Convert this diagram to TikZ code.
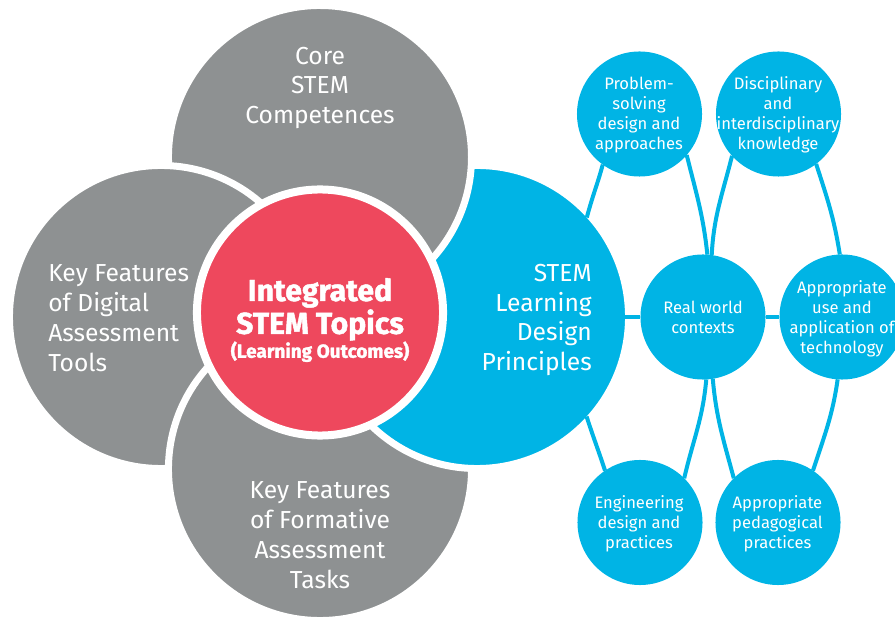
\documentclass[tikz,border=0pt]{standalone}
\usepackage{fontspec}
\setmainfont{Fira Sans}
\newfontfamily\topicsfont{Fira Sans}[BoldFeatures = {FakeBold = 1.5}]
\usepackage{tikz}
\definecolor{stemgray}{HTML}{8E9192}
\definecolor{stemblue}{HTML}{00B4E5}
\definecolor{stemred}{HTML}{EE485D}

\begin{document}
\begin{tikzpicture}[x = 0.025cm, y = 0.025cm,
		bigcircle/.style = {circle, minimum size = 7.575cm, draw = white, line width = 0.175cm, outer sep = 0},
		smallcircle/.style = {circle, minimum size = 3.125cm, fill = stemblue, outer sep = 0},
		bigtext/.style = {text = white, inner sep = 0, font = \fontsize{17.5}{21.26}\selectfont},
		smalltext/.style = {text = white, inner sep = 0, align = center, font = \fontsize{11.8}{14.2}\selectfont},
		link/.style = {stemblue, line width = 0.1cm}]
		\useasboundingbox (0,0) rectangle (895,619);
		\node[bigcircle, fill = stemgray] (core) at (320,462) {};
		\node[bigcircle, fill = stemgray] (digital) at (161,302) {};
		\node[bigcircle, fill = stemgray] (formative) at (320,150) {};
		\node[bigcircle, fill = stemblue] (design) at (477,302) {};
		\begin{scope}
			\clip (320,300) rectangle (480,619);
			\draw[white, line width = 0.175cm, fill = stemgray] (core.center) circle[radius = 151.5];
		\end{scope}
		\node[circle, minimum size = 6.15cm, fill = stemred, draw = white, line width = 0.2cm, outer sep = 0] (topics) at (320,306.5) {};
		\node[smallcircle] (problem) at (639.5,505) {};
		\node[smallcircle] (discipline) at (778.5,505) {};
		\node[smallcircle] (real) at (703,302) {};
		\node[smallcircle] (technology) at (842,302) {};
		\node[smallcircle] (engineering) at (640,96.5) {};
		\node[smallcircle] (pedagogy) at (778,96.5) {};
		\draw[link] (design.center) -- (real);
		\draw[link] (real) -- (technology);
		\draw[link, shorten > = -0.1cm] (problem.-126) to[out = -105, in = 75] (design.43);
		\draw[link, shorten < = -0.1cm] (design.-43) to[out = -72, in = 108] (engineering.124);
		\draw[link] (problem.-41) to[out = -76, in = 96] (real.86);
		\draw[link] (discipline.-138) to[out = -104, in = 87] (real.82);
		\draw[link] (discipline.-53) to[out = -72, in = 99] (technology.92);
		\draw[link] (real.-87) to[out = -95, in = 77] (engineering.45);
		\draw[link] (real.-81) to[out = -85, in = 105] (pedagogy.135);
		\draw[link] (technology.-94) to[out = -98, in = 72] (pedagogy.56);
		\node[bigtext, align = center] (coretxt) at (320,531) {Core\\STEM\\Competences};
		\node[bigtext, align = left, anchor = west] (digitaltxt) at (48,301) {Key Features\\of Digital\\Assessment\\Tools};
		\node[bigtext, align = center] (formativetxt) at (320,84) {Key Features\\of Formative\\Assessment\\Tasks};
		\node[bigtext, align = right, anchor = east] (designtxt) at (592,299) {STEM\\Learning\\Design\\Principles};
		\node[text = white, inner sep = 0, align = center, font = \topicsfont\bfseries\fontsize{21.5}{23.4}\selectfont] (topicstxt) at (320,299) {Integrated\\STEM Topics\\[-6.4pt]{\fontsize{13.5}{16}\selectfont(Learning Outcomes)}};
		\node[smalltext] (problemtxt) at (639,504) {Problem-\\solving\\design and\\approaches};
		\node[smalltext] (disciplinetxt) at (778,504) {Disciplinary\\and\\interdisciplinary\\knowledge};
		\node[smalltext] (realtxt) at (703,302) {Real world\\contexts};
		\node[smalltext] (technologytxt) at (842,300.5) {Appropriate\\use and\\application of\\technology};
		\node[smalltext] (engineeringtxt) at (639,95.5) {Engineering\\design and\\practices};
		\node[smalltext] (pedagogytxt) at (777.5,95.5) {Appropriate\\pedagogical\\practices};
	\end{tikzpicture}
\end{document}
